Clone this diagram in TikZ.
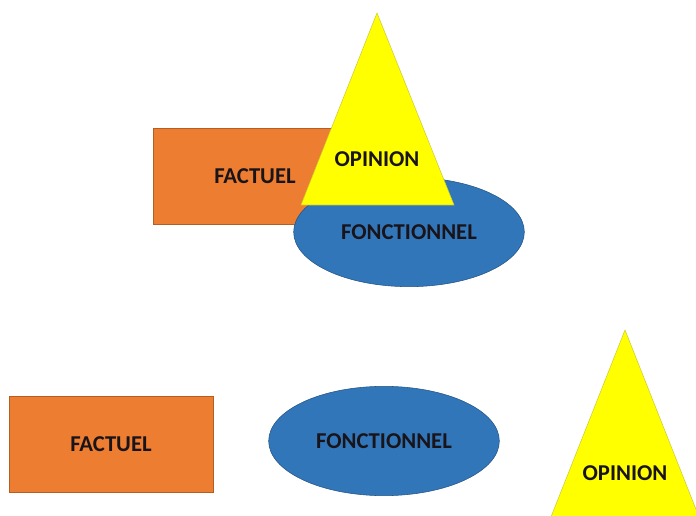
\documentclass[tikz,border=0pt]{standalone}
\usepackage{fontspec}
\setmainfont{Carlito}
\usetikzlibrary{shapes.geometric}
\definecolor{factorange}{RGB}{237,125,49}
\definecolor{foncblue}{RGB}{50,118,186}
\definecolor{opinyellow}{RGB}{255,255,0}
\definecolor{inktext}{RGB}{25,20,25}

\begin{document}
\begin{tikzpicture}[
    x=0.75pt,y=-0.75pt,
    label/.style={font=\bfseries\fontsize{17}{20}\selectfont,text=inktext},
    factbox/.style={rectangle,draw=factorange!75!black,line width=0.4pt,fill=factorange,
                    minimum width=153pt,minimum height=72pt,inner sep=0pt,label},
    foncell/.style={ellipse,draw=foncblue!70!black,line width=0.4pt,fill=foncblue,
                    minimum width=173pt,minimum height=82pt,inner sep=0pt,label},
    opintri/.style={draw=opinyellow!60!gray,line width=0.4pt,fill=opinyellow}
  ]
    \useasboundingbox (0,0) rectangle (696,516);
    \clip (0,0) rectangle (696,516);

    % overlapping group
    \node[factbox] (fact1) at (255,176) {FACTUEL};
    \node[foncell] (fonc1) at (409,232) {FONCTIONNEL};
    \coordinate (top1) at (377,13);
    \filldraw[opintri] (top1) -- (301,205) -- (454,205) -- cycle;
    \node[label] (opin1) at (377,159) {OPINION};

    % separate shapes
    \node[factbox] (fact2) at (111,444) {FACTUEL};
    \node[foncell] (fonc2) at (384,441) {FONCTIONNEL};
    \coordinate (top2) at (625,330);
    \filldraw[opintri] (top2) -- (549,522) -- (701,522) -- cycle;
    \node[label] (opin2) at (625,473) {OPINION};
\end{tikzpicture}
\end{document}
